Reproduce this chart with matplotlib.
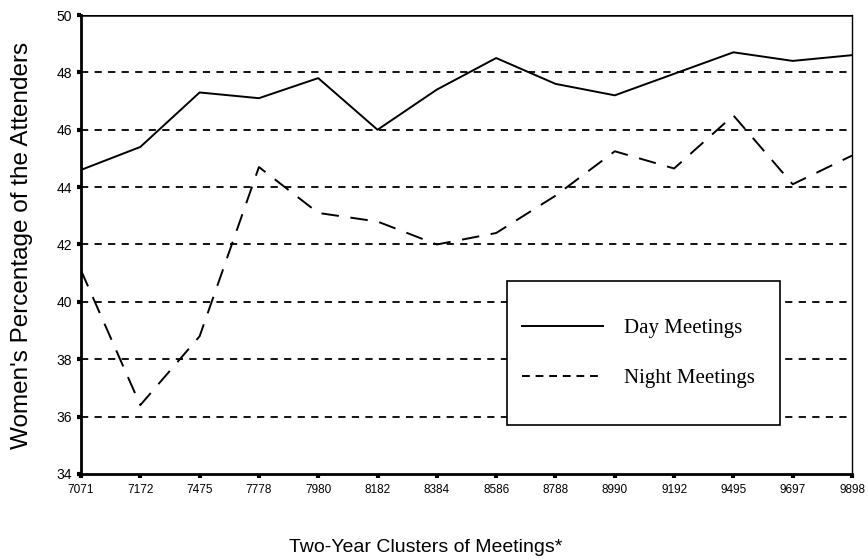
import matplotlib

matplotlib.use("Agg")
import matplotlib.pyplot as plt
from matplotlib.patches import Rectangle

clusters = ["7071", "7172", "7475", "7778", "7980", "8182", "8384",
            "8586", "8788", "8990", "9192", "9495", "9697", "9898"]
day_pct = [44.6, 45.4, 47.3, 47.1, 47.8, 46.0, 47.4,
           48.5, 47.6, 47.2, 47.95, 48.7, 48.4, 48.6]
night_pct = [41.1, 36.4, 38.8, 44.7, 43.1, 42.8, 42.0,
             42.4, 43.7, 45.25, 44.65, 46.5, 44.1, 45.1]
y_ticks = [34, 36, 38, 40, 42, 44, 46, 48, 50]

plt.rcParams["font.family"] = ["Liberation Sans", "DejaVu Sans"]

fig = plt.figure(figsize=(8.68, 5.6), dpi=100)
ax = fig.add_axes([0.0933, 0.1536, 0.8883, 0.8196])

x = list(range(len(clusters)))
ax.plot(x, day_pct, color="black", linewidth=1.4, label="Day Meetings", zorder=3)
ax.plot(x, night_pct, color="black", linewidth=1.4, dashes=(9, 6),
        label="Night Meetings", zorder=3)

for yv in y_ticks[1:-1]:
    ax.axhline(yv, color="black", linewidth=1.3, dashes=(4, 3.5), zorder=1)
ax.axhline(50, color="black", linewidth=1.8, zorder=1)

ax.set_xlim(0, len(clusters) - 1)
ax.set_ylim(34, 50)
ax.set_xticks(x)
ax.set_xticklabels(clusters, fontsize=8.5)
ax.set_yticks(y_ticks)
ax.tick_params(axis="y", labelsize=10, length=3, width=3, direction="out")
ax.tick_params(axis="x", length=3, width=3, direction="out", pad=4)

for side in ["left", "bottom"]:
    ax.spines[side].set_linewidth(2)
ax.spines["top"].set_visible(False)
ax.spines["right"].set_linewidth(1)

ax.set_ylabel("Women's Percentage of the Attenders", fontsize=17.5)
ax.yaxis.set_label_coords(33 / 868, 1 - 245 / 560, transform=fig.transFigure)
ax.set_xlabel("Two-Year Clusters of Meetings*", fontsize=14)
ax.xaxis.set_label_coords(426 / 868, 1 - 547 / 560, transform=fig.transFigure)
ax.xaxis.label.set_verticalalignment("center")

# legend box drawn as a plain rectangle, legend itself without frame
box = Rectangle((0.5525, 0.107), 0.354, 0.313, transform=ax.transAxes,
                facecolor="white", edgecolor="black", linewidth=1.2, zorder=4)
ax.add_patch(box)
leg = ax.legend(loc="center", bbox_to_anchor=(0.723, 0.2625), frameon=False,
                handlelength=3.9, handletextpad=1.0, labelspacing=1.45,
                prop={"family": "Liberation Serif", "size": 15})
leg.set_zorder(5)
for line in leg.get_lines():
    line.set_linewidth(1.4)
leg.get_lines()[1].set_dashes((4, 3))

fig.savefig("out.png", dpi=100)
